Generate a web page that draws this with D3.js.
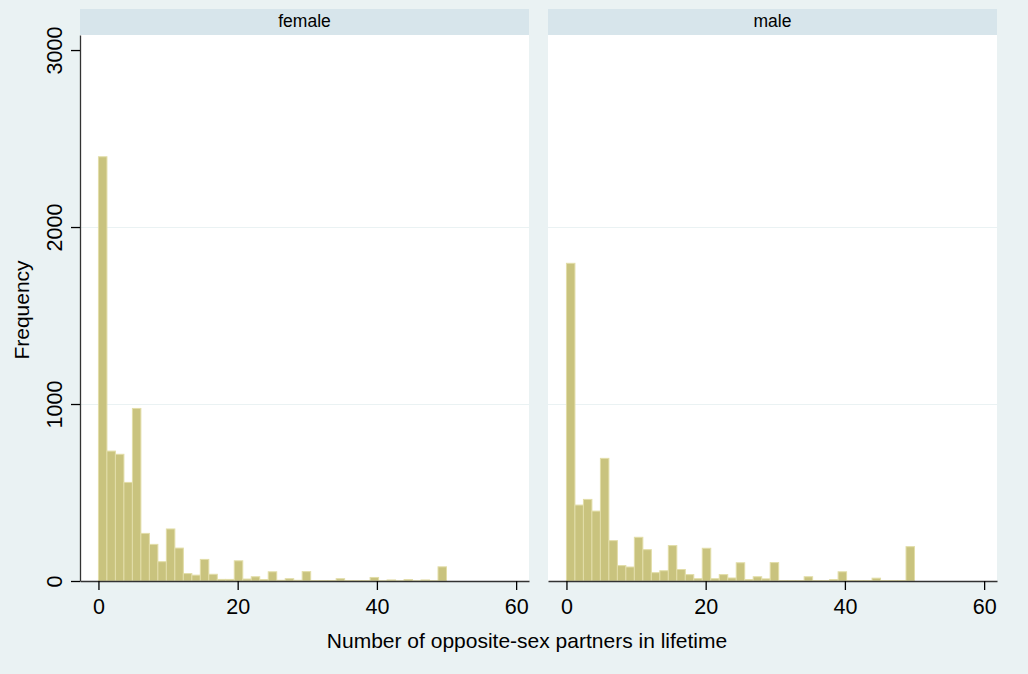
<!DOCTYPE html>
<html>
<head>
<meta charset="utf-8">
<script src="https://cdn.jsdelivr.net/npm/d3@7"></script>
<style>
    body { margin: 0; background: #eaf2f3; }
    text { font-family: "Liberation Sans", Arial, sans-serif; fill: #000; }
    .gridLine { stroke: #eaf2f3; stroke-width: 1.2; }
    .bar { fill: #c9c37e; stroke: #e2dda8; stroke-width: 1; }
    .strip { fill: #d7e5eb; }
</style>
</head>
<body>
<script>
(function(){

    // Pseudo-global variables
    var panels = ["female", "male"];
    var binStart = 0,
        binWidth = 50 / 41;
    var femaleCounts = [2397, 734, 716, 557, 975, 269, 207, 109, 294, 186,
        42, 33, 122, 38, 9, 9, 114, 11, 24, 8,
        52, 4, 13, 4, 53, 2, 2, 2, 13, 2,
        2, 2, 20, 1, 6, 1, 8, 1, 6, 1, 80];
    var maleCounts = [1795, 429, 461, 395, 693, 228, 87, 79, 247, 177,
        47, 58, 200, 65, 36, 13, 185, 13, 36, 17,
        103, 8, 24, 12, 104, 2, 2, 2, 24, 2,
        2, 8, 52, 2, 2, 2, 16, 2, 2, 2, 194];
    var xTicks = [0, 20, 40, 60];
    var yTicks = [0, 1000, 2000, 3000];
    var xTitle = "Number of opposite-sex partners in lifetime",
        yTitle = "Frequency";

    window.onload = setChart;

    function setChart(){
        var width = 1028,
            height = 674,
            panelLeft = [80, 548],
            panelWidth = 449,
            plotTop = 35,
            plotBottom = 581,
            stripTop = 9;

        var svg = d3.select("body")
            .append("svg")
            .attr("width", width)
            .attr("height", height);

        svg.append("rect")
            .attr("width", width)
            .attr("height", height)
            .attr("fill", "#eaf2f3");

        var x = d3.scaleLinear()
            .domain([-2.65, 61.85])
            .range([0, panelWidth]);

        var y = d3.scaleLinear()
            .domain([0, 3085])
            .range([plotBottom, plotTop]);

        var counts = [femaleCounts, maleCounts];

        panels.forEach(function(name, p){
            var g = svg.append("g")
                .attr("transform", "translate(" + panelLeft[p] + ",0)");

            // strip header
            g.append("rect")
                .attr("class", "strip")
                .attr("x", 0)
                .attr("y", stripTop)
                .attr("width", panelWidth)
                .attr("height", plotTop - stripTop);

            g.append("text")
                .attr("x", panelWidth / 2)
                .attr("y", 27)
                .attr("text-anchor", "middle")
                .style("font-size", "17.5px")
                .text(name);

            // plot region
            g.append("rect")
                .attr("x", 0)
                .attr("y", plotTop)
                .attr("width", panelWidth)
                .attr("height", plotBottom - plotTop)
                .attr("fill", "#ffffff");

            g.selectAll(".gridLine")
                .data(yTicks.filter(function(t){ return t > 0 && t < 3000; }))
                .enter()
                .append("line")
                .attr("class", "gridLine")
                .attr("x1", 0)
                .attr("x2", panelWidth)
                .attr("y1", function(d){ return Math.round(y(d)) + 0.5; })
                .attr("y2", function(d){ return Math.round(y(d)) + 0.5; });

            var bins = counts[p].map(function(c, i){
                return { x0: binStart + i * binWidth, x1: binStart + (i + 1) * binWidth, n: c };
            });

            g.selectAll(".bar")
                .data(bins)
                .enter()
                .append("rect")
                .attr("class", "bar")
                .attr("x", function(d){ return x(d.x0); })
                .attr("width", function(d){ return x(d.x1) - x(d.x0); })
                .attr("y", function(d){ return y(d.n); })
                .attr("height", function(d){ return plotBottom - y(d.n); });

            // x axis
            var xAxis = d3.axisBottom(x)
                .tickValues(xTicks)
                .tickFormat(d3.format("d"))
                .tickSize(9)
                .tickPadding(9)
                .tickSizeOuter(0);

            var xg = g.append("g")
                .attr("transform", "translate(0," + plotBottom + ")")
                .call(xAxis);
            xg.select(".domain").attr("stroke", "#333").attr("stroke-width", 1.3);
            xg.selectAll(".tick line").attr("stroke", "#000").attr("stroke-width", 1.3);
            xg.selectAll(".tick text")
                .style("font-size", "21.5px")
                .style("font-family", "'Liberation Sans', Arial, sans-serif")
                .attr("fill", "#000");

            // y axis only on the first panel
            if (p === 0){
                var yAxis = d3.axisLeft(y)
                    .tickValues(yTicks)
                    .tickFormat(d3.format("d"))
                    .tickSize(9)
                    .tickSizeOuter(0);

                var yg = g.append("g")
                    .call(yAxis);
                yg.select(".domain").attr("stroke", "#333").attr("stroke-width", 1.3);
                yg.selectAll(".tick line").attr("stroke", "#000").attr("stroke-width", 1.3);
                yg.selectAll(".tick text")
                    .style("font-size", "21.5px")
                    .style("font-family", "'Liberation Sans', Arial, sans-serif")
                    .attr("fill", "#000")
                    .attr("text-anchor", "middle")
                    .attr("x", 0)
                    .attr("dy", 0)
                    .attr("transform", "translate(-18,0) rotate(-90)");
            }
        });

        // axis titles
        svg.append("text")
            .attr("x", 527)
            .attr("y", 648)
            .attr("text-anchor", "middle")
            .style("font-size", "21px")
            .text(xTitle);

        svg.append("text")
            .attr("transform", "translate(29,310) rotate(-90)")
            .attr("text-anchor", "middle")
            .style("font-size", "21px")
            .text(yTitle);
    }

})();
</script>
</body>
</html>
